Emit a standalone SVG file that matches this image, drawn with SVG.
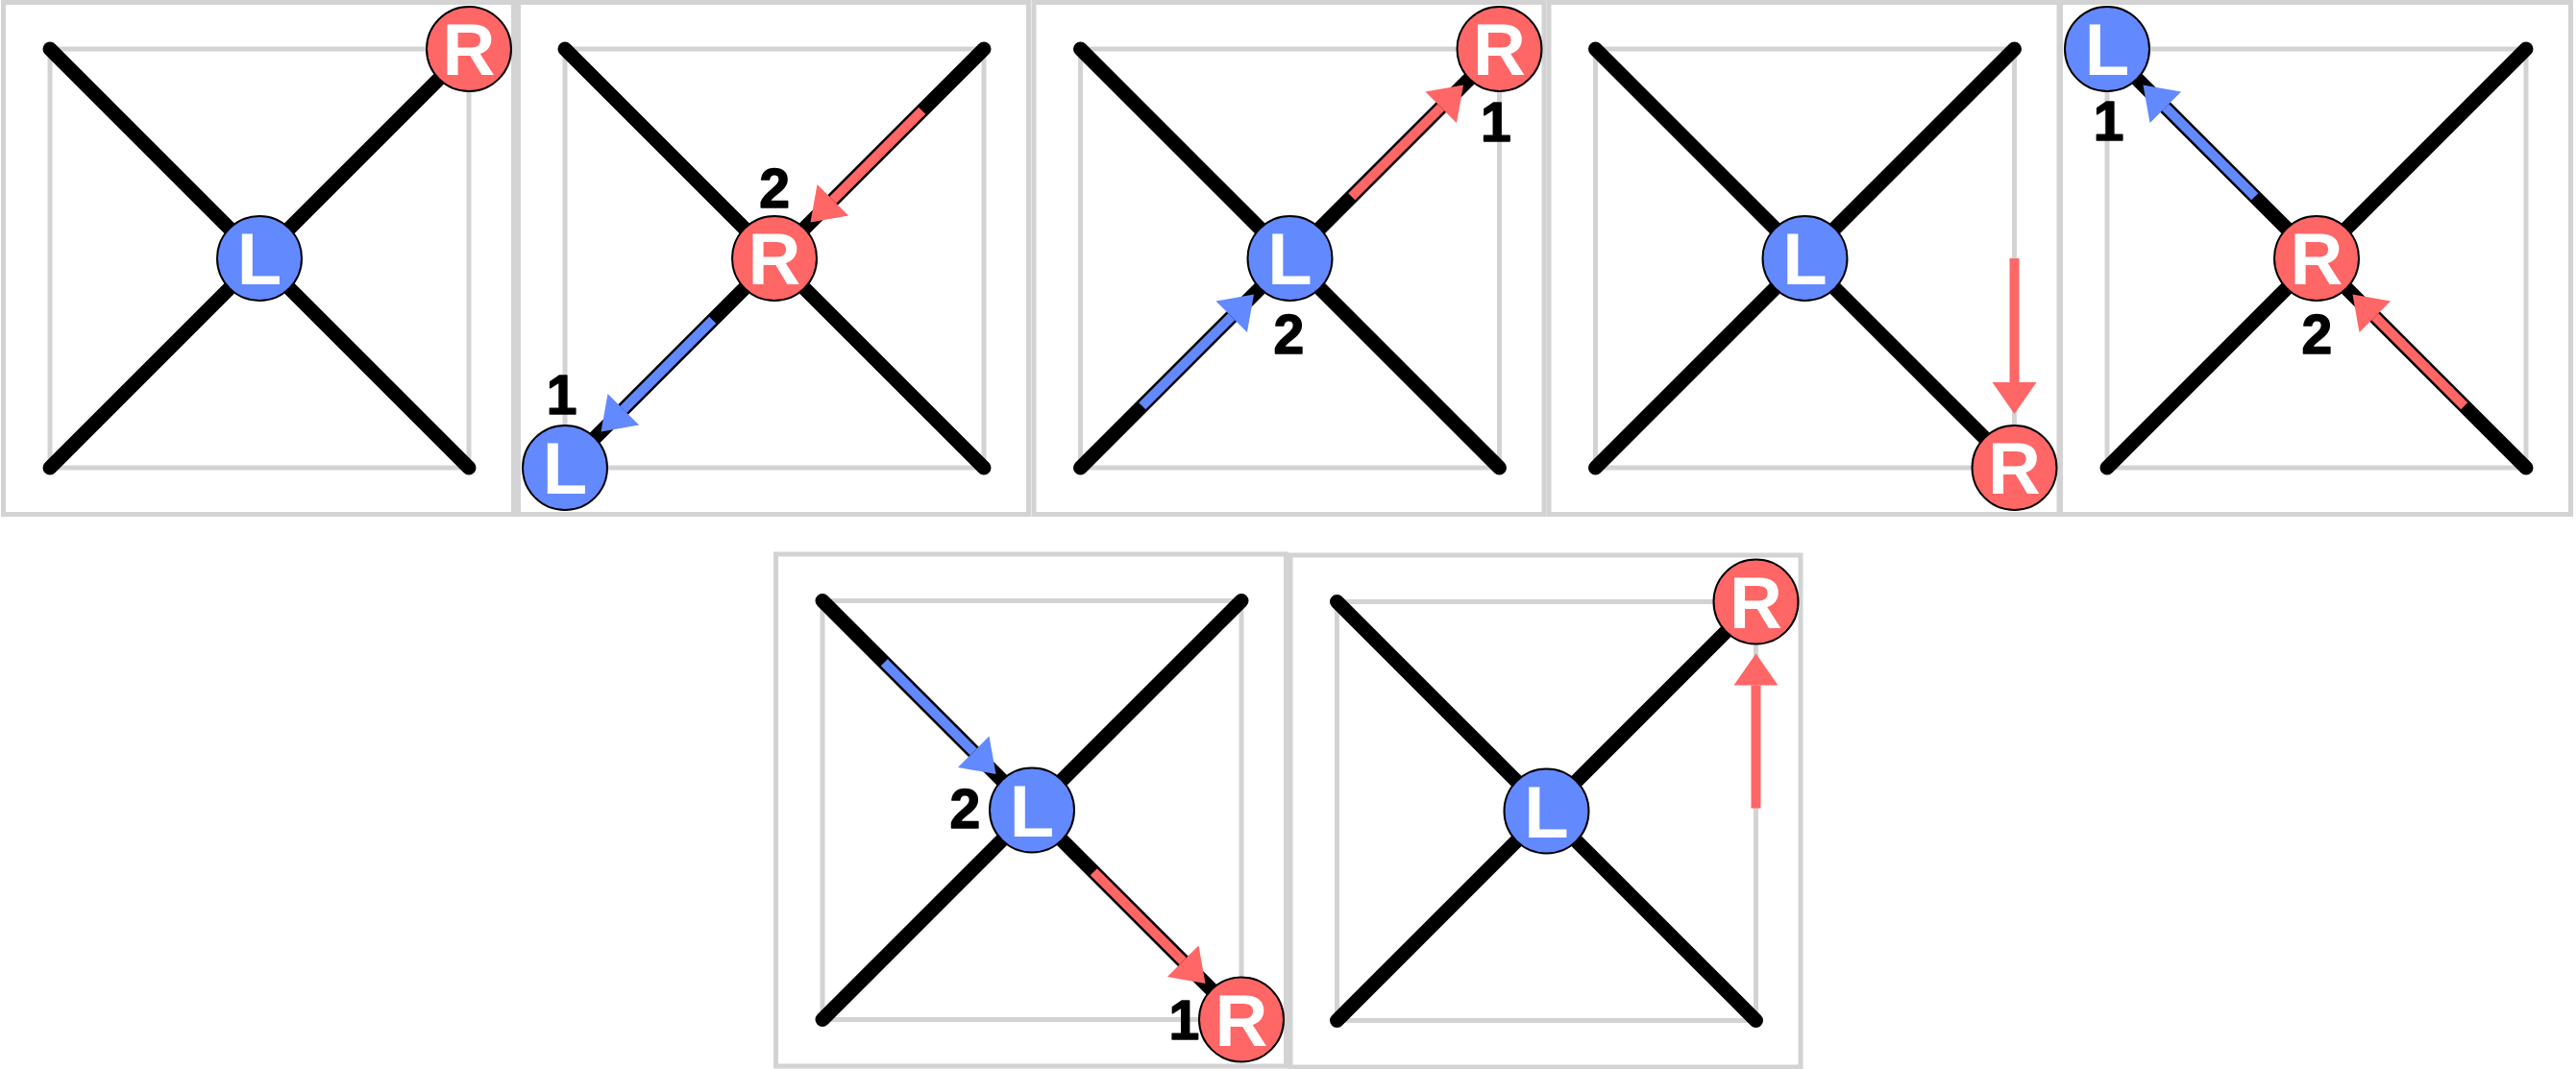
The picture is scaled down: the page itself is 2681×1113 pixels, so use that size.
<svg xmlns="http://www.w3.org/2000/svg" width="2681" height="1113" viewBox="0 0 2681 1113">
<defs>
<style>
.frame{fill:none;stroke:#d3d3d3;stroke-width:5}
.track{fill:none;stroke:#000;stroke-width:15;stroke-linecap:round}
.node circle{stroke:#000;stroke-width:2}
.L circle{fill:#6389ff}
.R circle{fill:#ff6666}
.node text{font-family:"Liberation Sans",Arial,sans-serif;font-weight:bold;font-size:76px;fill:#fff;text-anchor:middle}
.num{font-family:"Liberation Sans",Arial,sans-serif;font-weight:bold;font-size:57px;fill:#000;stroke:#000;stroke-width:1.5;stroke-linejoin:round;text-anchor:middle}
.blue{stroke:#6389ff;stroke-width:10;fill:none;marker-end:url(#hb)}
.red{stroke:#ff6666;stroke-width:10;fill:none;marker-end:url(#hr)}
</style>
<marker id="hb" markerUnits="userSpaceOnUse" markerWidth="34" markerHeight="46" viewBox="0 -23 34 46" refX="0" refY="0" orient="auto" overflow="visible"><path d="M0,-23 L33,0 L0,23Z" fill="#6389ff"/></marker>
<marker id="hr" markerUnits="userSpaceOnUse" markerWidth="34" markerHeight="46" viewBox="0 -23 34 46" refX="0" refY="0" orient="auto" overflow="visible"><path d="M0,-23 L33,0 L0,23Z" fill="#ff6666"/></marker>
<g id="board">
<rect class="frame" x="-266.5" y="-266.5" width="531" height="533"/>
<rect class="frame" x="-218" y="-218" width="436" height="436"/>
<path class="track" d="M-218,-218 L218,218 M218,-218 L-218,218"/>
</g>
</defs>

<g id="boards">
<use href="#board" transform="translate(270,269)"/>
<use href="#board" transform="translate(806,269)"/>
<use href="#board" transform="translate(1342.5,269)"/>
<use href="#board" transform="translate(1878.5,269)"/>
<use href="#board" transform="translate(2411,269)"/>
<use href="#board" transform="translate(1074,843.5)"/>
<use href="#board" transform="translate(1609.5,844.5)"/>
</g>

<g id="connectors">
<g transform="translate(806,269)">
<path class="red" d="M153.7,-153.7 L60.8,-60.8"/>
<path class="blue" d="M-64.3,64.3 L-157.2,157.2"/>
</g>
<g transform="translate(1342.5,269)">
<path class="red" d="M64.3,-64.3 L157.2,-157.2"/>
<path class="blue" d="M-153.7,153.7 L-60.8,60.8"/>
</g>
<g transform="translate(1878.5,269)">
<path class="red" d="M218,0 L218,129"/>
</g>
<g transform="translate(2411,269)">
<path class="blue" d="M-64.3,-64.3 L-157.2,-157.2"/>
<path class="red" d="M153.7,153.7 L60.8,60.8"/>
</g>
<g transform="translate(1074,843.5)">
<path class="blue" d="M-153.7,-153.7 L-60.8,-60.8"/>
<path class="red" d="M64.3,64.3 L157.2,157.2"/>
</g>
<g transform="translate(1609.5,844.5)">
<path class="red" d="M218,-3 L218,-131"/>
</g>
</g>

<g id="p1-L" class="node L"><circle cx="270" cy="269" r="44"/><text x="270" y="296">L</text></g>
<g id="p1-R" class="node R"><circle cx="488" cy="51" r="44"/><text x="488" y="78">R</text></g>

<g id="p2-R" class="node R"><circle cx="806" cy="269" r="44"/><text x="806" y="296">R</text></g>
<g id="p2-L" class="node L"><circle cx="588" cy="487" r="44"/><text x="588" y="514">L</text></g>

<g id="p3-L" class="node L"><circle cx="1342.5" cy="269" r="44"/><text x="1342.5" y="296">L</text></g>
<g id="p3-R" class="node R"><circle cx="1560.5" cy="51" r="44"/><text x="1560.5" y="78">R</text></g>

<g id="p4-L" class="node L"><circle cx="1878.5" cy="269" r="44"/><text x="1878.5" y="296">L</text></g>
<g id="p4-R" class="node R"><circle cx="2096.5" cy="487" r="44"/><text x="2096.5" y="514">R</text></g>

<g id="p5-R" class="node R"><circle cx="2411" cy="269" r="44"/><text x="2411" y="296">R</text></g>
<g id="p5-L" class="node L"><circle cx="2193" cy="51" r="44"/><text x="2193" y="78">L</text></g>

<g id="p6-L" class="node L"><circle cx="1074" cy="843.5" r="44"/><text x="1074" y="870.5">L</text></g>
<g id="p6-R" class="node R"><circle cx="1292" cy="1061.5" r="44"/><text x="1292" y="1088.5">R</text></g>

<g id="p7-L" class="node L"><circle cx="1609.5" cy="844.5" r="44"/><text x="1609.5" y="871.5">L</text></g>
<g id="p7-R" class="node R"><circle cx="1827.5" cy="626.5" r="44"/><text x="1827.5" y="653.5">R</text></g>

<g id="labels">
<text class="num" x="806" y="216">2</text>
<text class="num" x="584.5" y="431">1</text>
<text class="num" x="1556.8" y="147.4">1</text>
<text class="num" x="1341.3" y="367.8">2</text>
<text class="num" x="2194.7" y="145.7">1</text>
<text class="num" x="2411.3" y="367.8">2</text>
<text class="num" x="1004.3" y="861.8">2</text>
<text class="num" x="1232.4" y="1081.7">1</text>
</g>
</svg>
